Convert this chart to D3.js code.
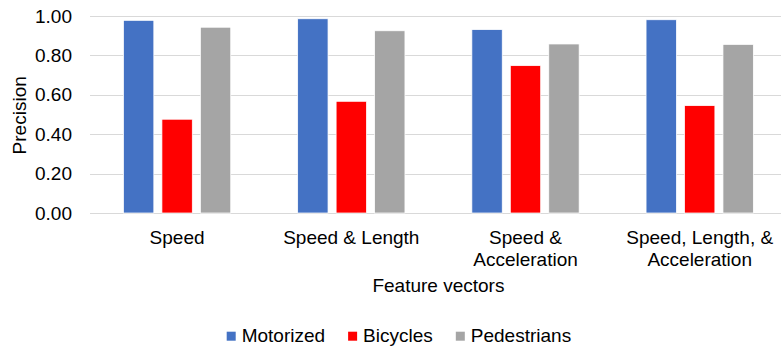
<!DOCTYPE html>
<html>
<head>
<meta charset="utf-8">
<script src="https://cdn.jsdelivr.net/npm/d3@7/dist/d3.min.js"></script>
<style>
  html, body { margin: 0; padding: 0; background: #fff; }
  svg { display: block; font-family: "Liberation Sans", Arial, sans-serif; }
</style>
</head>
<body>
<svg id="chart" width="781" height="350"></svg>
<script>
// Feature-vector categories (multi-line labels split on "\n")
const categories = ["Speed", "Speed & Length", "Speed &\nAcceleration", "Speed, Length, &\nAcceleration"];
const seriesNames = ["Motorized", "Bicycles", "Pedestrians"];
const motorized   = [0.978, 0.986, 0.931, 0.981];
const bicycles    = [0.476, 0.567, 0.748, 0.545];
const pedestrians = [0.943, 0.925, 0.858, 0.856];
const yTicks = [0, 0.2, 0.4, 0.6, 0.8, 1.0];
const colors = ["#4472C4", "#FF0000", "#A5A5A5"];

const seriesValues = [motorized, bicycles, pedestrians];
const rows = categories.map((c, i) => ({
  category: c,
  values: seriesNames.map((s, j) => ({ series: s, value: seriesValues[j][i] }))
}));

const svg = d3.select("#chart");
const fontSize = 19;
const textColor = "#000";

const x = d3.scaleBand().domain(categories).range([90, 786.8]).paddingInner(0).paddingOuter(0);
const xInner = d3.scaleBand().domain(seriesNames).range([0, x.bandwidth()])
  .paddingInner(0.21).paddingOuter(0.87);
const y = d3.scaleLinear().domain([0, 1]).range([213, 16]);
const color = d3.scaleOrdinal().domain(seriesNames).range(colors);

// Horizontal gridlines (the zero line doubles as the category axis)
svg.append("g")
  .selectAll("line")
  .data(yTicks)
  .join("line")
  .attr("x1", 90)
  .attr("x2", 781)
  .attr("y1", d => Math.round(y(d)) + 0.5)
  .attr("y2", d => Math.round(y(d)) + 0.5)
  .attr("stroke", "#d9d9d9")
  .attr("stroke-width", 1.2);

// Y-axis tick labels
const yAxis = d3.axisLeft(y).tickValues(yTicks).tickFormat(d3.format(".2f")).tickSize(0).tickPadding(0);
const yg = svg.append("g").attr("transform", "translate(72,0)").call(yAxis);
yg.select(".domain").remove();
yg.selectAll("text")
  .attr("font-size", fontSize)
  .attr("font-family", "Liberation Sans, Arial, sans-serif")
  .attr("fill", textColor);

// Bars
const groups = svg.append("g")
  .selectAll("g")
  .data(rows)
  .join("g")
  .attr("transform", d => `translate(${x(d.category)},0)`);

groups.selectAll("rect")
  .data(d => d.values)
  .join("rect")
  .attr("x", d => xInner(d.series))
  .attr("width", xInner.bandwidth())
  .attr("y", d => y(d.value))
  .attr("height", d => y(0) - y(d.value))
  .attr("fill", d => color(d.series))
  .attr("stroke", "#ffffff")
  .attr("stroke-width", 0.75);

// Category labels below the axis
const xg = svg.append("g");
rows.forEach(r => {
  const lines = r.category.split("\n");
  const t = xg.append("text")
    .attr("x", x(r.category) + x.bandwidth() / 2)
    .attr("y", 244)
    .attr("text-anchor", "middle")
    .attr("font-size", fontSize)
    .attr("fill", textColor);
  lines.forEach((ln, i) => {
    t.append("tspan")
      .attr("x", x(r.category) + x.bandwidth() / 2)
      .attr("dy", i === 0 ? 0 : 22)
      .text(ln);
  });
});

// Axis titles
svg.append("text")
  .attr("x", (90 + 786.8) / 2)
  .attr("y", 292)
  .attr("text-anchor", "middle")
  .attr("font-size", fontSize)
  .attr("fill", textColor)
  .text("Feature vectors");

svg.append("text")
  .attr("transform", "translate(25.5,115.3) rotate(-90)")
  .attr("text-anchor", "middle")
  .attr("font-size", fontSize)
  .attr("fill", textColor)
  .text("Precision");

// Legend
const legend = svg.append("g");
let lx = 226.7;
seriesNames.forEach(s => {
  legend.append("rect")
    .attr("x", lx)
    .attr("y", 331.7)
    .attr("width", 9)
    .attr("height", 9)
    .attr("fill", color(s));
  const t = legend.append("text")
    .attr("x", lx + 15)
    .attr("y", 341.7)
    .attr("font-size", fontSize)
    .attr("fill", textColor)
    .text(s);
  lx += 15 + t.node().getComputedTextLength() + 23;
});
</script>
</body>
</html>
